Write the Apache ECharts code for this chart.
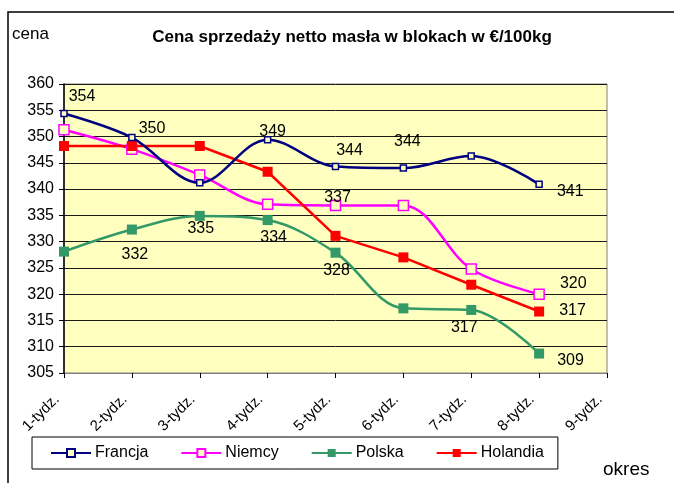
<!DOCTYPE html>
<html>
<head>
<meta charset="utf-8">
<script src="https://cdn.jsdelivr.net/npm/echarts@6/dist/echarts.min.js"></script>
<style>
  html, body { margin: 0; padding: 0; background: #fff; }
  #chart { width: 674px; height: 483px; }
</style>
</head>
<body>
<div id="chart"></div>
<script>
// dane
const weeks = ['1-tydz.', '2-tydz.', '3-tydz.', '4-tydz.', '5-tydz.', '6-tydz.', '7-tydz.', '8-tydz.', '9-tydz.']
const francja = [354.4, 349.8, 341.2, 349.4, 344.3, 344.0, 346.3, 340.9]
const niemcy = [351.3, 347.6, 342.7, 337.1, 336.9, 336.9, 324.8, 320.0]
const polska = [328.1, 332.3, 334.9, 334.1, 327.9, 317.3, 317.0, 308.7]
const holandia = [348.2, 348.2, 348.2, 343.3, 331.1, 327.0, 321.8, 316.7]
const yTicks = { min: 305, max: 360, step: 5 }

// które punkty mają etykiety (i gdzie je przesunąć)
const labelsFrancja = { 0: ['top', [18, 0]], 1: ['right', [-2, -9]], 3: ['top', [5, 9]], 4: ['top', [14, 1]], 5: ['top', [4, -10]], 7: ['right', [9, 7]] }
const labelsNiemcy = { 4: ['top', [2, 11]], 7: ['right', [10, -11]] }
const labelsPolska = { 1: ['bottom', [3, 7]], 2: ['bottom', [1, -5]], 3: ['bottom', [6, 0]], 4: ['bottom', [1, 0]], 6: ['bottom', [-7, 0]], 7: ['right', [8, 7]] }
const labelsHolandia = { 7: ['right', [10, -1]] }

const FONT = 'Liberation Sans, Arial, sans-serif'

const withLabels = (values, labels) => values.map((v, i) => {
  const l = labels[i]
  if (!l) return v
  return {
    value: v,
    label: {
      show: true,
      position: l[0],
      offset: l[1],
      formatter: () => String(Math.round(v)),
      color: '#000',
      fontSize: 16,
      fontFamily: FONT
    }
  }
})

const makeSeries = (name, values, labels, color, opts) => ({
  name,
  type: 'line',
  data: withLabels(values, labels),
  smooth: opts.smooth ? 0.35 : false,
  symbol: 'rect',
  symbolSize: opts.size,
  showAllSymbol: true,
  lineStyle: { color, width: opts.width },
  itemStyle: {
    color: opts.hollow ? '#FFFFC0' : color,
    borderColor: color,
    borderWidth: opts.hollow ? 1.5 : 0
  },
  emphasis: { disabled: true },
  label: { show: false },
  z: opts.z
})

const chart = echarts.init(document.getElementById('chart'), null, { renderer: 'canvas' })

chart.setOption({
  animation: false,
  backgroundColor: '#fff',
  title: {
    text: 'Cena sprzedaży netto masła w blokach w €/100kg',
    left: 347,
    top: 24,
    textAlign: 'center',
    textStyle: { fontSize: 17, fontWeight: 'bold', fontFamily: FONT, color: '#000' }
  },
  grid: {
    left: 64,
    right: 67,
    top: 84,
    bottom: 110,
    show: true,
    backgroundColor: '#FFFFC0',
    borderColor: '#808080',
    borderWidth: 1
  },
  legend: {
    left: 32,
    top: 437,
    width: 525,
    height: 33,
    padding: [8, 14, 8, 18],
    itemGap: 32,
    itemWidth: 40,
    itemHeight: 10,
    borderColor: '#000',
    borderWidth: 1,
    textStyle: { fontSize: 16, fontFamily: FONT, color: '#000', padding: [0, 0, 0, -1] },
    data: ['Francja', 'Niemcy', 'Polska', 'Holandia']
  },
  xAxis: {
    type: 'category',
    data: weeks,
    boundaryGap: false,
    axisLine: { show: true, lineStyle: { color: '#808080', width: 1 } },
    axisTick: { show: true, inside: false, length: 5, lineStyle: { color: '#000' } },
    axisLabel: {
      rotate: 45,
      interval: 0,
      margin: 17,
      padding: [0, 10, 0, 0],
      fontSize: 15,
      fontFamily: FONT,
      color: '#000'
    },
    splitLine: { show: false }
  },
  yAxis: {
    type: 'value',
    min: yTicks.min,
    max: yTicks.max,
    interval: yTicks.step,
    name: 'cena',
    nameLocation: 'end',
    nameGap: 0,
    nameTextStyle: { fontSize: 17, fontFamily: FONT, color: '#000', align: 'left', padding: [0, 0, 41, -52] },
    axisLine: { show: true, lineStyle: { color: '#000', width: 1.5 } },
    axisTick: { show: true, length: 5, lineStyle: { color: '#000' } },
    axisLabel: { fontSize: 16, fontFamily: FONT, color: '#000', margin: 10 },
    splitLine: { show: true, lineStyle: { color: '#1a1a1a', width: 1 } }
  },
  graphic: [
    {
      type: 'rect',
      shape: { x: 8, y: 12, width: 720, height: 520 },
      style: { fill: null, stroke: '#000', lineWidth: 1.5 },
      silent: true
    },
    {
      type: 'text',
      left: 603,
      top: 460,
      style: { text: 'okres', fontSize: 19, fontFamily: FONT, fill: '#000' }
    }
  ],
  series: [
    makeSeries('Francja', francja, labelsFrancja, '#000080', { smooth: true, size: 6, width: 2.5, hollow: true, z: 4 }),
    makeSeries('Niemcy', niemcy, labelsNiemcy, '#FF00FF', { smooth: true, size: 10, width: 2.5, hollow: true, z: 3 }),
    makeSeries('Polska', polska, labelsPolska, '#339966', { smooth: true, size: 10, width: 2.5, hollow: false, z: 2 }),
    makeSeries('Holandia', holandia, labelsHolandia, '#FF0000', { smooth: false, size: 10, width: 2.5, hollow: false, z: 3 })
  ]
})
</script>
</body>
</html>
